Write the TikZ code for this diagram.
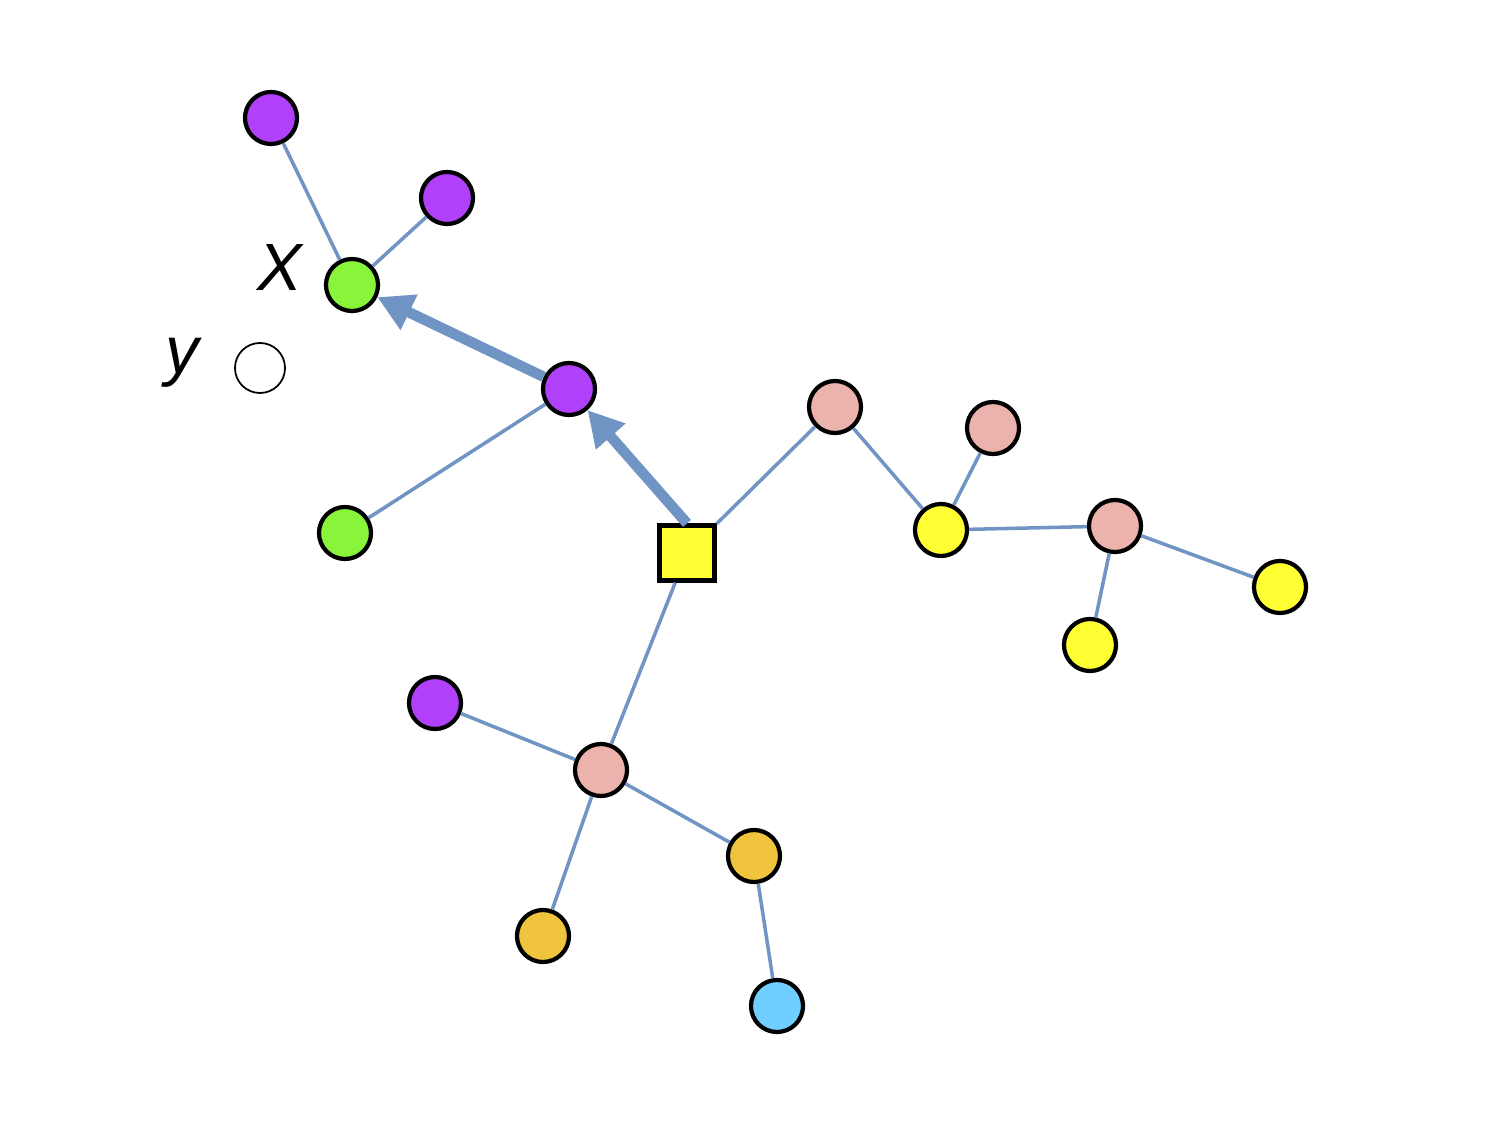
\documentclass[tikz,border=0pt]{standalone}
\usepackage{fontspec}
\setmainfont{Liberation Sans}
\usetikzlibrary{arrows.meta}
\definecolor{cpurple}{HTML}{B040FA}
\definecolor{cgreen}{HTML}{88F53B}
\definecolor{cpink}{HTML}{ECB3AC}
\definecolor{cyellow}{HTML}{FFFF33}
\definecolor{corange}{HTML}{F0C43C}
\definecolor{cblue}{HTML}{70CFFF}
\definecolor{cedge}{HTML}{7094C4}
\tikzset{
  dot/.style={circle, draw=black, line width=1.2pt, minimum size=0.52cm, inner sep=0pt},
  sq/.style={rectangle, draw=black, line width=1.2pt, fill=cyellow, minimum size=0.55cm, inner sep=0pt},
  edge/.style={draw=cedge, line width=1pt},
  bigarrow/.style={draw=cedge, line width=3pt, -{Triangle[length=10pt,width=10.5pt]}},
  lbl/.style={font=\fontsize{19}{21}\selectfont\itshape, inner sep=0pt}
}
\begin{document}
\begin{tikzpicture}[x=0.01cm,y=-0.01cm]
\useasboundingbox (0,0) rectangle (1500,1125);
\node[dot, fill=cpurple] (p1) at (271,118) {};
\node[dot, fill=cpurple] (p2) at (447,198) {};
\node[dot, fill=cgreen] (g1) at (352,285) {};
\node[dot, fill=white, line width=0.5pt, minimum size=0.5cm] (e) at (260,368) {};
\node[lbl] (lx) at (280,268) {X};
\node[lbl] (ly) at (182,363) {y};
\node[dot, fill=cpurple] (p3) at (569,389) {};
\node[dot, fill=cgreen] (g2) at (345,533) {};
\node[sq] (s) at (687,553) {};
\node[dot, fill=cpink] (k1) at (835,407) {};
\node[dot, fill=cpink] (k2) at (993,428) {};
\node[dot, fill=cyellow] (y1) at (941,530) {};
\node[dot, fill=cpink] (k3) at (1115,526) {};
\node[dot, fill=cyellow] (y2) at (1280,587) {};
\node[dot, fill=cyellow] (y3) at (1090,645) {};
\node[dot, fill=cpurple] (p4) at (435,703) {};
\node[dot, fill=cpink] (k4) at (601,770) {};
\node[dot, fill=corange] (o1) at (754,856) {};
\node[dot, fill=corange] (o2) at (543,936) {};
\node[dot, fill=cblue] (b) at (777,1006) {};
\path[edge] (p1) -- (g1);
\path[edge] (p2) -- (g1);
\path[edge] (p3) -- (g2);
\path[edge] (s) -- (k1);
\path[edge] (k1) -- (y1);
\path[edge] (k2) -- (y1);
\path[edge] (y1) -- (k3);
\path[edge] (k3) -- (y2);
\path[edge] (k3) -- (y3);
\path[edge] (s) -- (k4);
\path[edge] (k4) -- (p4);
\path[edge] (k4) -- (o1);
\path[edge] (k4) -- (o2);
\path[edge] (o1) -- (b);
\path[bigarrow] (p3) -- (g1);
\path[bigarrow] (s.north) -- (p3);
\end{tikzpicture}
\end{document}
